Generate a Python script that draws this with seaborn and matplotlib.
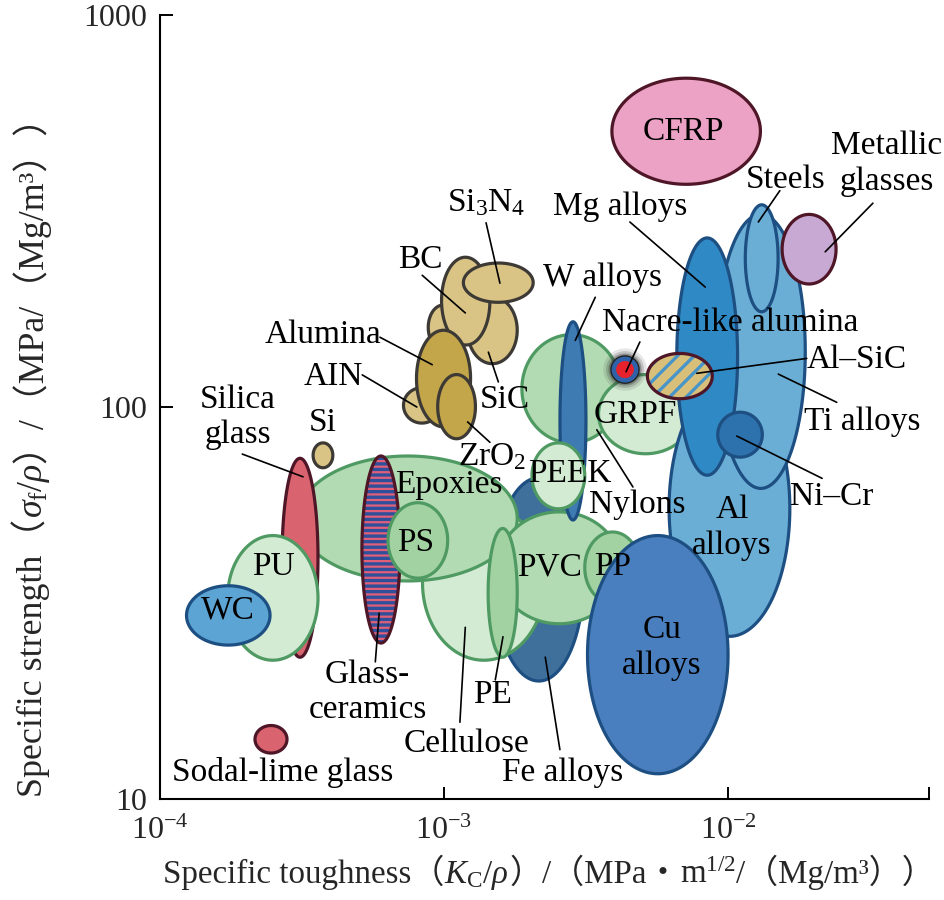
import numpy as np
import pandas as pd
import matplotlib
matplotlib.use('Agg')
import matplotlib.pyplot as plt
import seaborn as sns

# material property ranges, in drawing order
materials = ['Fe alloys', 'Cellulose', 'Epoxies', 'Silica glass', 'PU', 'WC',
             'Glass-ceramics', 'PS', 'PVC', 'PE', 'PP', 'Nylons', 'W alloys',
             'PEEK', 'GRPF', 'Al alloys', 'Cu alloys', 'Ti alloys', 'Steels',
             'Mg alloys', 'Ni-Cr', 'Al-SiC', 'Nacre-like alumina',
             'Metallic glasses', 'CFRP', 'Sodal-lime glass', 'Si', 'ceramic',
             'AlN', 'SiC', 'BC', 'Si3N4', 'Alumina', 'ZrO2']
tough_lo = [1.5e-3, 8.4e-4, 3.06e-4, 2.69e-4, 1.73e-4, 1.24e-4,
            5.14e-4, 6.35e-4, 1.54e-3, 1.43e-3, 3.13e-3, 1.88e-3, 2.56e-3,
            2.04e-3, 3.5e-3, 6.2e-3, 3.2e-3, 9.1e-3, 1.15e-2,
            6.6e-3, 9.2e-3, 5.2e-3, 3.87e-3,
            1.55e-2, 3.9e-3, 2.16e-4, 3.46e-4, 8.8e-4,
            7.2e-4, 1.21e-3, 9.8e-4, 1.17e-3, 8.0e-4, 9.5e-4]
tough_hi = [3.1e-3, 2.27e-3, 1.81e-3, 3.6e-4, 3.6e-4, 2.44e-4,
            7.0e-4, 1.03e-3, 4.2e-3, 1.81e-3, 4.9e-3, 4.2e-3, 3.16e-3,
            3.13e-3, 7.5e-3, 1.65e-2, 1.0e-2, 1.87e-2, 1.5e-2,
            1.08e-2, 1.32e-2, 8.8e-3, 4.86e-3,
            2.4e-2, 1.3e-2, 2.8e-4, 4.06e-4, 1.12e-3,
            9.7e-4, 1.81e-3, 1.45e-3, 2.06e-3, 1.24e-3, 1.29e-3]
strength_lo = [20, 22.6, 36, 23, 22.6, 24.7,
               25, 36.6, 28, 23, 31.6, 81, 51.5,
               55, 76, 26, 11.6, 62, 175,
               67, 74.5, 105, 115,
               206, 370, 13.1, 70, 140,
               91, 129, 144, 185, 89, 83]
strength_hi = [66, 56, 75, 74, 47, 35,
               75, 57, 54, 49, 48, 153, 165,
               81, 121, 117, 47, 310, 328,
               270, 97, 137, 135,
               310, 690, 15.4, 81, 182,
               112, 191, 241, 233, 157, 121]
tilt = [0, 0, 0, 0, 0, 0,
        0, 0, 0, 0, 0, 0, 0,
        0, 0, 0, 0, 0, 0,
        0, 0, 0, 0,
        0, 0, 0, 0, 0,
        0, 0, -8, 0, 0, 0]

df = pd.DataFrame({'material': materials, 'k_lo': tough_lo, 'k_hi': tough_hi,
                   's_lo': strength_lo, 's_hi': strength_hi, 'tilt': tilt})

# styles
g_edge, b_edge, c_edge, r_edge = '#4f9a63', '#1d4f82', '#3d3a35', '#4e1626'
style = {
    'Fe alloys': ('#3f709c', b_edge), 'Cellulose': ('#d3ebd3', g_edge),
    'Epoxies': ('#b3dbb3', g_edge), 'Silica glass': ('#d9636e', r_edge),
    'PU': ('#d3ebd3', g_edge), 'WC': ('#5ba4d4', b_edge),
    'Glass-ceramics': ('#e0607a', r_edge), 'PS': ('#a2d2a2', g_edge),
    'PVC': ('#b3dbb3', g_edge), 'PE': ('#a2d2a2', g_edge),
    'PP': ('#a2d2a2', g_edge), 'Nylons': ('#b3dbb3', g_edge),
    'W alloys': ('#3f7bb3', b_edge), 'PEEK': ('#d3ebd3', g_edge),
    'GRPF': ('#d3ebd3', g_edge), 'Al alloys': ('#6aaed6', b_edge),
    'Cu alloys': ('#4a7fbf', b_edge), 'Ti alloys': ('#6aaed6', b_edge),
    'Steels': ('#6aaed6', b_edge), 'Mg alloys': ('#2f89c5', b_edge),
    'Ni-Cr': ('#2d72ad', b_edge), 'Al-SiC': ('#d9c07a', r_edge),
    'Nacre-like alumina': ('#2f62a8', '#222222'),
    'Metallic glasses': ('#c8a9d4', r_edge), 'CFRP': ('#eba2c4', r_edge),
    'Sodal-lime glass': ('#d9636e', r_edge), 'Si': ('#d9c486', c_edge),
    'ceramic': ('#d9c486', c_edge), 'AlN': ('#d9c486', c_edge),
    'SiC': ('#d9c486', c_edge), 'BC': ('#d9c486', c_edge),
    'Si3N4': ('#d9c486', c_edge), 'Alumina': ('#c3a54a', c_edge),
    'ZrO2': ('#c3a54a', c_edge),
}
hatches = {'Glass-ceramics': ('---', '#2f4f9a'), 'Al-SiC': ('//', '#4a95c8')}

sns.set_style('ticks')
plt.rcParams['font.family'] = ['Liberation Serif', 'Noto Sans CJK SC']
plt.rcParams['mathtext.fontset'] = 'custom'
plt.rcParams['mathtext.rm'] = 'Liberation Serif'
plt.rcParams['mathtext.it'] = 'Liberation Serif:italic'
plt.rcParams['mathtext.bf'] = 'Liberation Serif:bold'
plt.rcParams['hatch.linewidth'] = 2.4


def ellipse(row, scale=1.0, n=240):
    lx = np.log10([row.k_lo, row.k_hi])
    ly = np.log10([row.s_lo, row.s_hi])
    cx, cy = lx.mean(), ly.mean()
    a = (lx[1] - lx[0]) / 2 * scale
    b = (ly[1] - ly[0]) / 2 * scale
    t = np.linspace(0, 2 * np.pi, n)
    u, v = a * np.cos(t), b * np.sin(t)
    th = np.deg2rad(row.tilt)
    x = cx + u * np.cos(th) - v * np.sin(th) * 0.725
    y = cy + u * np.sin(th) / 0.725 + v * np.cos(th)
    return 10 ** x, 10 ** y


fig = plt.figure(figsize=(9.45, 9.0), dpi=100)
ax = fig.add_axes([0.1693, 0.1122, 0.8138, 0.8711])
ax.set_xscale('log')
ax.set_yscale('log')
ax.set_xlim(1e-4, 0.051)
ax.set_ylim(10, 1000)

for row in df.itertuples():
    face, edge = style[row.material]
    x, y = ellipse(row)
    if row.material == 'Nacre-like alumina':
        for s, al in [(1.55, 0.12), (1.35, 0.2), (1.18, 0.35)]:
            gx, gy = ellipse(row, s)
            ax.fill(gx, gy, color='#333333', alpha=al, lw=0)
        ax.fill(x, y, facecolor=face, edgecolor=edge, lw=1.0)
        rx, ry = ellipse(row, 0.6)
        ax.fill(rx, ry, facecolor='#e8222c', edgecolor='#e8222c', lw=0.5)
        continue
    if row.material in hatches:
        h, hc = hatches[row.material]
        ax.fill(x, y, facecolor=face, edgecolor=hc, hatch=h, lw=0)
        ax.fill(x, y, fill=False, edgecolor=edge, lw=2.3)
    else:
        ax.fill(x, y, facecolor=face, edgecolor=edge, lw=2.3)

# labels: text, x, y (axes fraction)
labels = [
    ('CFRP', 0.680, 0.851), ('Metallic\nglasses', 0.945, 0.810),
    ('Steels', 0.813, 0.790), ('Mg alloys', 0.598, 0.755),
    ('W alloys', 0.576, 0.665), ('Nacre-like alumina', 0.741, 0.608),
    ('Al\u2013SiC', 0.906, 0.560), ('Ti alloys', 0.913, 0.481),
    ('GRPF', 0.618, 0.490), ('Nylons', 0.620, 0.375),
    ('Ni\u2013Cr', 0.874, 0.385), ('Al\nalloys', 0.744, 0.346),
    ('PEEK', 0.533, 0.415), ('PVC', 0.507, 0.296),
    ('PP', 0.589, 0.296), ('Cu\nalloys', 0.653, 0.193),
    ('Fe alloys', 0.523, 0.034), ('PE', 0.433, 0.133),
    ('Cellulose', 0.399, 0.071), ('Glass-\nceramics', 0.270, 0.136),
    ('Sodal-lime glass', 0.159, 0.034), ('WC', 0.088, 0.241),
    ('PU', 0.147, 0.296), ('PS', 0.332, 0.327),
    ('Epoxies', 0.375, 0.401), ('Silica\nglass', 0.101, 0.487),
    ('Si', 0.212, 0.480), ('AIN', 0.225, 0.538),
    ('Alumina', 0.212, 0.592), ('ZrO$_2$', 0.432, 0.436),
    ('SiC', 0.449, 0.509), ('BC', 0.338, 0.688),
    ('Si$_3$N$_4$', 0.424, 0.761),
]
for txt, fx, fy in labels:
    ax.text(fx, fy, txt, transform=ax.transAxes, ha='center', va='center',
            fontsize=24, linespacing=1.22, color='black', zorder=5)

leaders = [
    (0.927, 0.760, 0.865, 0.698), (0.806, 0.776, 0.778, 0.736),
    (0.611, 0.736, 0.709, 0.653), (0.566, 0.640, 0.540, 0.585),
    (0.624, 0.583, 0.606, 0.545), (0.841, 0.562, 0.698, 0.543),
    (0.880, 0.506, 0.804, 0.542), (0.615, 0.398, 0.568, 0.471),
    (0.861, 0.409, 0.750, 0.463), (0.520, 0.063, 0.501, 0.181),
    (0.436, 0.152, 0.446, 0.207), (0.390, 0.098, 0.397, 0.219),
    (0.280, 0.175, 0.285, 0.237), (0.107, 0.440, 0.186, 0.411),
    (0.263, 0.541, 0.334, 0.500), (0.286, 0.589, 0.354, 0.554),
    (0.429, 0.455, 0.400, 0.481), (0.440, 0.532, 0.427, 0.570),
    (0.341, 0.668, 0.397, 0.620), (0.424, 0.735, 0.442, 0.658),
]
for x0, y0, x1, y1 in leaders:
    ax.plot([x0, x1], [y0, y1], transform=ax.transAxes, color='black',
            lw=1.2, zorder=4)

ax.minorticks_off()
ax.set_xticks([1e-4, 1e-3, 1e-2, 0.051],
              labels=['$10^{-4}$', '$10^{-3}$', '$10^{-2}$', ''])
ax.set_yticks([10, 100, 1000], labels=['10', '100', '1000'])
ax.tick_params(direction='in', length=9, width=1.4, labelsize=23, color='black')
ax.tick_params(axis='x', pad=13)
ax.tick_params(axis='y', pad=9)
for sp in ['left', 'bottom']:
    ax.spines[sp].set_linewidth(1.5)
    ax.spines[sp].set_color('black')
sns.despine(ax=ax)


# axis titles built piece by piece so the full-width brackets come from a CJK font
def chain(pieces, x0, y0, vertical, fs):
    prev = None
    for txt in pieces:
        kw = dict(fontsize=fs, ha='left', va='baseline', annotation_clip=False,
                  family=['Liberation Serif', 'Noto Sans CJK SC'])
        if vertical:
            kw.update(rotation=90, rotation_mode='anchor')
            if prev is None:
                prev = ax.annotate(txt, xy=(x0, y0), xycoords='axes fraction', **kw)
            else:
                prev = ax.annotate(txt, xy=(x0, 1), xycoords=('axes fraction', prev), **kw)
        else:
            if prev is None:
                prev = ax.annotate(txt, xy=(x0, y0), xycoords='axes fraction', **kw)
            else:
                prev = ax.annotate(txt, xy=(1, y0), xycoords=(prev, 'axes fraction'), **kw)


chain(['Specific toughness\uff08', r'$K_\mathrm{C}/\rho$', '\uff09/\uff08MPa\u30fb',
       r'm$^{1/2}$', '/\uff08Mg/m\u00b3\uff09\uff09'], 0.004, -0.107, False, 23.8)
chain(['Specific strength\uff08', r'$\sigma_\mathrm{f}/\rho$',
       '\uff09/\uff08MPa/\uff08Mg/m\u00b3\uff09\uff09'], -0.153, 0.003, True, 25.8)

fig.savefig('out.png', dpi=100)
